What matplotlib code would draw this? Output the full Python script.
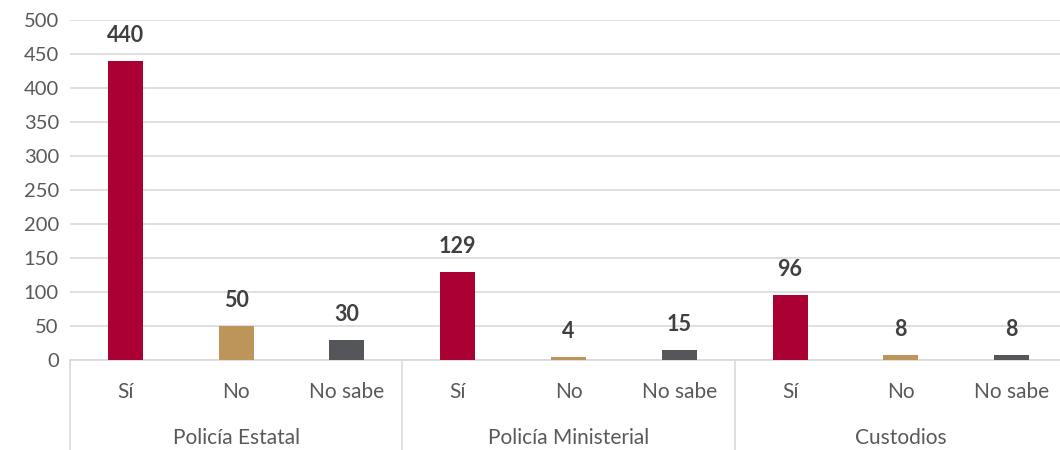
import matplotlib
matplotlib.use("Agg")
import matplotlib.pyplot as plt
from matplotlib.lines import Line2D

plt.rcParams['font.family'] = ['Lato', 'DejaVu Sans']

groups = ["Policía Estatal", "Policía Ministerial", "Custodios"]
answers = ["Sí", "No", "No sabe"]
values = [440, 50, 30, 129, 4, 15, 96, 8, 8]
colors_by_answer = ["#AB0033", "#BD955A", "#55565A"]

fig = plt.figure(figsize=(10.6, 4.5), dpi=100)
ax = fig.add_axes([70/1060, 90/450, 997/1060, 340/450])

n = len(values)
xs = list(range(n))
cols = [colors_by_answer[i % 3] for i in range(n)]
ax.bar(xs, values, width=0.315, color=cols, zorder=3)

for x, v in zip(xs, values):
    ax.text(x, v + 22, str(v), ha='center', va='bottom', fontsize=15.5,
            fontweight='bold', color='#404040')

ax.set_ylim(0, 500)
ax.set_xlim(-0.5, n - 0.5)
ax.set_yticks(range(0, 501, 50))
ax.yaxis.grid(True, color='#D9D9D9', linewidth=1.2, zorder=0)
ax.tick_params(axis='y', length=0, labelsize=14.5, labelcolor='#595959', pad=8)
ax.set_xticks(xs)
ax.set_xticklabels([answers[i % 3] for i in range(n)])
ax.tick_params(axis='x', length=0, labelsize=15, labelcolor='#595959', pad=16)
for s in ['top', 'right', 'left']:
    ax.spines[s].set_visible(False)
ax.spines['bottom'].set_color('#D9D9D9')
ax.spines['bottom'].set_linewidth(1.2)

trans = ax.get_xaxis_transform()
for b in [-0.5, 2.5, 5.5, 8.5]:
    ax.add_line(Line2D([b, b], [0, -0.27], transform=trans, color='#D9D9D9',
                       linewidth=1.2, clip_on=False))
for gi, g in enumerate(groups):
    ax.text(gi * 3 + 1, -0.228, g, transform=trans, ha='center', va='center',
            fontsize=15, color='#595959')

fig.savefig("out.png", dpi=100)
